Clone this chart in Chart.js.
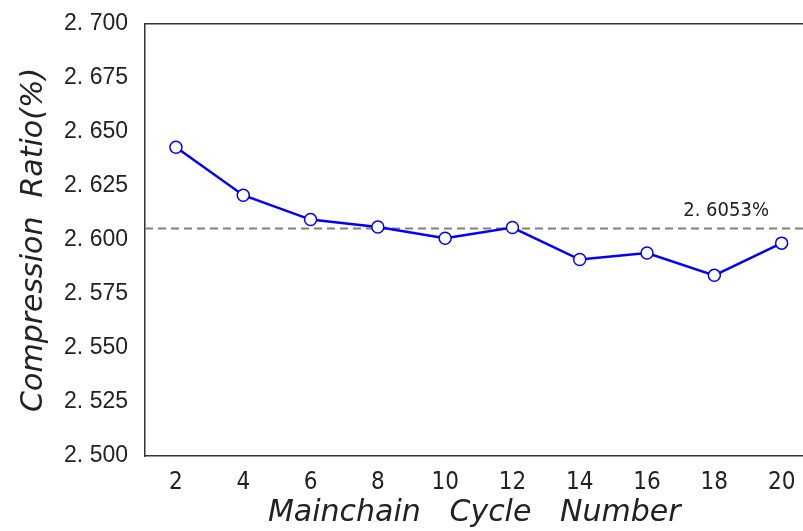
<!DOCTYPE html>
<html>
<head>
<meta charset="utf-8">
<script src="https://cdn.jsdelivr.net/npm/chart.js@4"></script>
<style>
  html, body { margin: 0; padding: 0; background: #fff; overflow: hidden; }
  #wrap { width: 803px; height: 531px; overflow: hidden; }
</style>
</head>
<body>
<div id="wrap"><canvas id="ratioChart" width="811" height="531"></canvas></div>
<script>
// values
const cycles = [2, 4, 6, 8, 10, 12, 14, 16, 18, 20];
const ratios = [2.6429, 2.6207, 2.6094, 2.6060, 2.6008, 2.6057, 2.5909, 2.5939, 2.5836, 2.5985];
const meanRatio = 2.6053;
const meanLabel = '2. 6053%';
const yTickValues = [2.5, 2.525, 2.55, 2.575, 2.6, 2.625, 2.65, 2.675, 2.7];
const yTickLabels = ['2. 500', '2. 525', '2. 550', '2. 575', '2. 600', '2. 625', '2. 650', '2. 675', '2. 700'];
const xMin = 1.08, xMax = 20.65;

// top spine + mean label
const extras = {
    id: 'extras',
    afterDatasetsDraw(chart) {
        const ctx = chart.ctx;
        const area = chart.chartArea;
        ctx.save();
        ctx.strokeStyle = '#333';
        ctx.lineWidth = 1.5;
        ctx.beginPath();
        ctx.moveTo(area.left, area.top);
        ctx.lineTo(area.right, area.top);
        ctx.stroke();

        const x = chart.scales.x.getPixelForValue(18.35);
        const y = chart.scales.y.getPixelForValue(meanRatio);
        ctx.fillStyle = '#222';
        ctx.font = '20px "DejaVu Sans Condensed"';
        ctx.textAlign = 'center';
        ctx.textBaseline = 'bottom';
        ctx.fillText(meanLabel, x, y - 8);
        ctx.restore();
    }
};

const ctx = document.getElementById('ratioChart').getContext('2d');
new Chart(ctx, {
    type: 'line',
    data: {
        datasets: [{
            label: 'ratio',
            data: cycles.map((c, i) => ({ x: c, y: ratios[i] })),
            borderColor: '#0000ff',
            borderWidth: 2.5,
            pointRadius: 6,
            pointBorderWidth: 1.5,
            pointBackgroundColor: '#ffffff',
            pointBorderColor: '#0000ff',
            tension: 0
        }, {
            label: 'mean',
            data: [{ x: xMin, y: meanRatio }, { x: xMax, y: meanRatio }],
            borderColor: '#808080',
            borderWidth: 2,
            borderDash: [8, 5],
            pointRadius: 0
        }]
    },
    options: {
        responsive: false,
        animation: false,
        layout: { padding: { top: 22, right: 0 } },
        plugins: {
            legend: { display: false },
            tooltip: { enabled: false }
        },
        scales: {
            x: {
                type: 'linear',
                min: xMin,
                max: xMax,
                afterBuildTicks: (scale) => { scale.ticks = cycles.map(v => ({ value: v })); },
                afterFit: (scale) => {
                    scale.height = 75;
                    scale.paddingLeft = 0;
                    scale.paddingRight = 0;
                },
                grid: { display: false, drawTicks: true, tickLength: 7, tickColor: '#333' },
                border: { color: '#333', width: 1.5 },
                ticks: {
                    color: '#222',
                    padding: 5,
                    maxRotation: 0,
                    font: { family: 'DejaVu Sans Condensed', size: 24 }
                },
                title: {
                    display: true,
                    text: 'Mainchain   Cycle   Number',
                    color: '#222',
                    padding: { top: 3, bottom: 0 },
                    font: { family: 'DejaVu Sans', size: 30, style: 'italic' }
                }
            },
            y: {
                min: 2.5,
                max: 2.7,
                afterBuildTicks: (scale) => { scale.ticks = yTickValues.map(v => ({ value: v })); },
                afterFit: (scale) => { scale.width = 145; },
                grid: { display: false, drawTicks: true, tickLength: 7, tickColor: '#333' },
                border: { color: '#333', width: 1.5 },
                ticks: {
                    color: '#222',
                    padding: 10,
                    font: { family: 'Liberation Sans', size: 23 },
                    callback: (v) => yTickLabels[yTickValues.findIndex(t => Math.abs(t - v) < 1e-6)]
                },
                title: {
                    display: true,
                    text: 'Compression  Ratio(%)',
                    color: '#222',
                    padding: { top: 16, bottom: 0 },
                    font: { family: 'DejaVu Sans', size: 30, style: 'italic' }
                }
            }
        }
    },
    plugins: [extras]
});
</script>
</body>
</html>
